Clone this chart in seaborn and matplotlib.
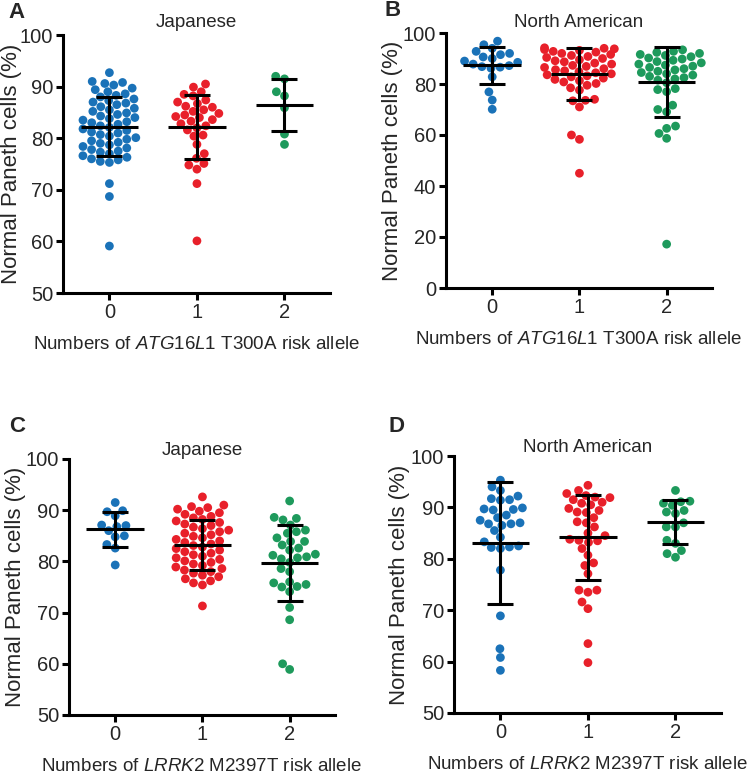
"""Paneth cell phenotype by risk allele count (ATG16L1 / LRRK2), four panels."""

import matplotlib

matplotlib.use("Agg")
import matplotlib.pyplot as plt
import pandas as pd
import seaborn as sns

sns.set_style("ticks")
plt.rcParams["font.family"] = ["Liberation Sans", "DejaVu Sans"]
plt.rcParams["mathtext.fontset"] = "custom"
plt.rcParams["mathtext.it"] = "Liberation Sans:italic"
plt.rcParams["mathtext.rm"] = "Liberation Sans"

GROUPS = ["0", "1", "2"]
COLORS = ["#1a72b8", "#e8202a", "#1e9a5c"]

# --- A: Japanese, ATG16L1 T300A ---
a_g0 = [92.7, 91.0, 90.8, 90.6, 90.3, 89.7, 89.4, 89.0, 88.6, 88.3, 88.0,
        87.6, 87.3, 87.0, 86.8, 86.5, 86.1, 85.8, 85.5, 85.2, 84.9, 84.6,
        84.3, 84.0, 83.8, 83.5, 83.2, 83.0, 82.7, 82.4, 82.1, 81.8, 81.5,
        81.2, 81.0, 80.7, 80.4, 80.1, 79.8, 79.5, 79.2, 79.0, 78.7, 78.4,
        78.1, 77.8, 77.5, 77.3, 77.0, 76.6, 76.3, 76.0, 75.8, 75.5, 75.3,
        71.2, 68.7, 59.1]
a_g1 = [90.5, 89.9, 89.0, 88.5, 88.2, 87.4, 87.0, 86.7, 86.2, 86.0, 85.5,
        85.2, 84.8, 84.5, 84.2, 84.0, 83.6, 83.3, 82.8, 82.4, 82.0, 81.6,
        80.6, 80.4, 78.8, 77.0, 76.1, 75.1, 74.8, 74.0, 71.2, 60.1]
a_g2 = [92.0, 91.5, 89.0, 88.2, 85.9, 80.8, 78.8]
a_mean = [82.2, 82.1, 86.5]
a_sd = [5.7, 6.2, 5.05]

# --- B: North American, ATG16L1 T300A ---
b_g0 = [96.8, 95.4, 94.0, 92.8, 92.0, 91.5, 90.6, 90.0, 89.0, 88.5, 87.8,
        87.2, 86.8, 86.2, 86.6, 82.8, 76.9, 73.7, 70.1]
b_g1 = [94.2, 94.0, 93.8, 93.5, 93.2, 92.8, 92.5, 92.0, 91.6, 91.2, 90.8,
        90.4, 90.0, 89.5, 89.1, 88.7, 88.2, 87.8, 87.3, 86.9, 86.5, 86.0,
        85.6, 85.2, 84.8, 84.4, 84.0, 83.6, 83.2, 82.8, 82.3, 81.8, 81.3,
        80.8, 80.2, 79.5, 78.5, 77.6, 74.0, 73.6, 73.4, 71.0, 60.0, 58.3,
        45.0]
b_g2 = [93.4, 92.8, 92.4, 92.0, 91.6, 91.2, 90.7, 90.2, 89.8, 89.3, 88.8,
        88.3, 87.8, 87.4, 87.0, 86.5, 86.0, 85.5, 85.0, 84.5, 84.0, 83.5,
        83.0, 82.5, 82.0, 81.5, 80.5, 78.2, 77.8, 77.0, 71.7, 70.0, 69.1,
        63.5, 62.6, 60.6, 58.7, 17.2]
b_mean = [87.3, 84.0, 80.7]
b_sd = [7.15, 10.3, 13.8]

# --- C: Japanese, LRRK2 M2397T ---
c_g0 = [91.5, 89.9, 89.7, 88.9, 87.1, 87.0, 86.8, 86.0, 85.0, 84.8, 83.3,
        82.6, 79.3]
c_g1 = [92.6, 91.0, 90.7, 90.5, 90.2, 89.8, 89.5, 89.2, 88.8, 88.5, 88.2,
        87.9, 87.6, 87.3, 87.0, 86.7, 86.4, 86.1, 85.8, 85.5, 85.2, 84.9,
        84.6, 84.3, 84.0, 83.7, 83.4, 83.1, 82.8, 82.5, 82.2, 81.9, 81.6,
        81.3, 81.0, 80.7, 80.4, 80.1, 79.8, 79.5, 79.2, 78.9, 78.6, 78.3,
        78.0, 77.7, 77.3, 77.0, 76.6, 76.2, 75.8, 75.4, 71.3]
c_g2 = [91.8, 88.6, 88.4, 88.1, 87.1, 86.1, 85.8, 85.5, 84.6, 83.9, 83.9,
        83.2, 82.6, 82.2, 81.4, 81.2, 80.9, 80.7, 80.5, 79.8, 78.6, 78.0,
        76.0, 75.8, 75.5, 75.1, 75.0, 74.1, 71.0, 68.6, 60.0, 58.9]
c_mean = [86.3, 83.2, 79.75]
c_sd = [3.4, 4.9, 7.45]

# --- D: North American, LRRK2 M2397T ---
d_g0 = [95.3, 94.0, 93.3, 92.2, 91.7, 91.5, 91.4, 89.9, 89.7, 89.5, 89.6,
        88.5, 88.0, 87.5, 87.0, 86.8, 86.8, 86.5, 85.5, 84.2, 83.3, 82.5,
        82.3, 82.0, 82.2, 77.8, 68.9, 62.5, 60.8, 58.3]
d_g1 = [94.3, 93.3, 92.7, 92.3, 92.0, 91.9, 91.5, 91.0, 90.8, 90.5, 89.8,
        89.4, 89.1, 89.0, 88.0, 87.2, 87.0, 86.2, 85.0, 84.5, 83.8, 83.6,
        83.5, 83.2, 82.0, 80.7, 79.2, 78.7, 77.1, 73.9, 73.9, 73.5, 71.6,
        70.3, 63.5, 59.8]
d_g2 = [93.3, 91.2, 91.1, 90.8, 90.4, 89.4, 89.1, 88.8, 87.0, 86.2, 86.2,
        83.6, 83.0, 81.6, 81.0, 80.3]
d_mean = [83.1, 84.2, 87.2]
d_sd = [11.8, 8.3, 4.3]

XLAB_ATG = r"Numbers of $\mathit{ATG16L1}$ T300A risk allele"
XLAB_LRRK = r"Numbers of $\mathit{LRRK2}$ M2397T risk allele"

W, H = 748, 774


def _box(left, right, top, bottom):
    return [left / W, 1 - bottom / H, (right - left) / W, (bottom - top) / H]


PANELS = [
    dict(letter="A", title="Japanese", xlabel=XLAB_ATG,
         groups=[a_g0, a_g1, a_g2], mean=a_mean, sd=a_sd,
         ylim=(50, 100), yticks=range(50, 101, 10),
         box=_box(63, 330, 35, 293), lpos=(8, 12), tpad=6, ylx=-0.152),
    dict(letter="B", title="North American", xlabel=XLAB_ATG,
         groups=[b_g0, b_g1, b_g2], mean=b_mean, sd=b_sd,
         ylim=(0, 100), yticks=range(0, 101, 20),
         box=_box(446, 712, 33, 288), lpos=(385, 11), tpad=4, ylx=-0.163),
    dict(letter="C", title="Japanese", xlabel=XLAB_LRRK,
         groups=[c_g0, c_g1, c_g2], mean=c_mean, sd=c_sd,
         ylim=(50, 100), yticks=range(50, 101, 10),
         box=_box(69, 335, 459, 715), lpos=(9, 427), tpad=-1, ylx=-0.16),
    dict(letter="D", title="North American", xlabel=XLAB_LRRK,
         groups=[d_g0, d_g1, d_g2], mean=d_mean, sd=d_sd,
         ylim=(50, 100), yticks=range(50, 101, 10),
         box=_box(454, 721, 456, 713), lpos=(388, 427), tpad=-1, ylx=-0.163),
]

LW = 2.2


def _draw_panel(fig, p):
    ax = fig.add_axes(p["box"])
    df = pd.DataFrame(
        [(g, v) for g, vals in zip(GROUPS, p["groups"]) for v in vals],
        columns=["grp", "value"],
    )
    sns.swarmplot(
        data=df, x="grp", y="value", hue="grp", order=GROUPS,
        hue_order=GROUPS, palette=COLORS, size=6.3, linewidth=0,
        legend=False, ax=ax, zorder=1, warn_thresh=1.0,
    )
    pos = list(range(len(GROUPS)))
    ax.hlines(p["mean"], [x - 0.33 for x in pos], [x + 0.33 for x in pos],
              color="black", lw=LW, zorder=3)
    ax.errorbar(pos, p["mean"], yerr=p["sd"], fmt="none", ecolor="black",
                elinewidth=LW, capsize=9.5, capthick=LW, zorder=3)

    ax.set_xlim(-0.53, 2.52)
    ax.set_ylim(*p["ylim"])
    ax.set_yticks(list(p["yticks"]))
    ax.set_xticks(pos, GROUPS)
    ax.tick_params(labelsize=14.5, width=LW, length=5, pad=2, color="black")
    for side in ("left", "bottom"):
        ax.spines[side].set_linewidth(LW)
        ax.spines[side].set_color("black")
    sns.despine(ax=ax)

    ax.set_title(p["title"], fontsize=13.5, pad=p["tpad"])
    ax.set_xlabel(p["xlabel"], fontsize=13.5, labelpad=10)
    ax.set_ylabel("Normal Paneth cells (%)", fontsize=16)
    ax.yaxis.set_label_coords(p["ylx"], 0.5)
    fig.text(p["lpos"][0] / W, 1 - p["lpos"][1] / H, p["letter"],
             fontsize=16, fontweight="bold", va="center", ha="left")
    return ax


def main():
    fig = plt.figure(figsize=(W / 100, H / 100), dpi=100)
    for p in PANELS:
        _draw_panel(fig, p)
    fig.savefig("out.png", dpi=100)
    plt.close(fig)


if __name__ == "__main__":
    main()
